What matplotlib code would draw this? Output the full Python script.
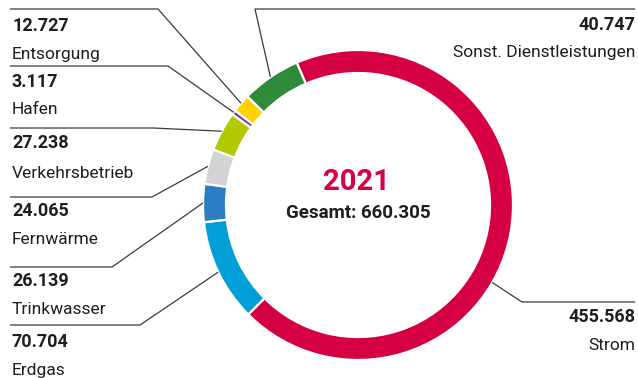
import matplotlib
matplotlib.use("Agg")
from matplotlib import pyplot as plt
import numpy as np

# Umsatz je Sparte 2021 (Tsd. EUR), im Uhrzeigersinn ab Strom
sparten = ["Strom", "Erdgas", "Trinkwasser", "Fernwärme", "Verkehrsbetrieb",
           "Hafen", "Entsorgung", "Sonst. Dienstleistungen"]
werte = [455.568, 70.704, 26.139, 24.065, 27.238, 3.117, 12.727, 40.747]
farben = ["#d40042", "#009fd7", "#2a7ec4", "#d1d3d4", "#b2c800",
          "#7a2e8c", "#ffd200", "#2e8b3a"]
jahr = "2021"

W, H = 638, 378
cx, cy = 358, H - 205
r_out, ring = 155, 23

def fmt(v):
    return f"{v:.3f}"

plt.rcParams['font.family'] = ['Roboto', 'DejaVu Sans']
fig = plt.figure(figsize=(W / 100, H / 100), dpi=100)
ax = fig.add_axes([0, 0, 1, 1])

wedges, _ = ax.pie(werte, colors=farben, startangle=113.3, counterclock=False,
                   center=(cx, cy), radius=r_out,
                   wedgeprops=dict(width=ring, edgecolor="white", linewidth=1.6))
ax.set_xlim(0, W)
ax.set_ylim(0, H)
ax.set_aspect("equal")
ax.axis("off")

# Beschriftung: (Seite, y Linie, Knick x, y Wert, y Name), y in Pixeln von oben
layout = {
    "Entsorgung":              ("l", 9,   158, 26,  55),
    "Hafen":                   ("l", 66,  168, 82,  110),
    "Verkehrsbetrieb":         ("l", 128, 153, 143, 173),
    "Fernwärme":               ("l", 197, 152, 211, 240),
    "Trinkwasser":             ("l", 267, 112, 281, 310),
    "Erdgas":                  ("l", 325, 140, 342, 370),
    "Sonst. Dienstleistungen": ("r", 9,   255, 25,  53),
    "Strom":                   ("r", 302, 522, 317, 346),
}
anker_winkel = {"Strom": -30}

line_kw = dict(color="#3a3a3a", lw=0.9, solid_capstyle="butt")
for w, name, v in zip(wedges, sparten, werte):
    seite, yl, xk, yv, yn = layout[name]
    ang = anker_winkel.get(name, (w.theta1 + w.theta2) / 2)
    ax_ = cx + r_out * np.cos(np.radians(ang))
    ay_ = cy + r_out * np.sin(np.radians(ang))
    if seite == "l":
        ax.plot([10, xk, ax_], [H - yl, H - yl, ay_], **line_kw)
        ax.text(12, H - yv, fmt(v), fontsize=13, fontweight="bold",
                color="#1e1e1e", ha="left", va="center")
        ax.text(12, H - yn, name, fontsize=12.5, color="#1e1e1e",
                ha="left", va="center")
    else:
        ax.plot([635, xk, ax_], [H - yl, H - yl, ay_], **line_kw)
        ax.text(635, H - yv, fmt(v), fontsize=13, fontweight="bold",
                color="#1e1e1e", ha="right", va="center")
        ax.text(635, H - yn, name, fontsize=12.5, color="#1e1e1e",
                ha="right", va="center")

gesamt = sum(werte)
ax.text(cx - 2, H - 182, jahr, fontsize=21, fontweight="bold",
        color="#d40042", ha="center", va="center")
ax.text(cx, H - 213, f"Gesamt: {fmt(gesamt)}", fontsize=13.5,
        fontweight="bold", color="#1e1e1e", ha="center", va="center")

plt.savefig("out.png", dpi=100)
